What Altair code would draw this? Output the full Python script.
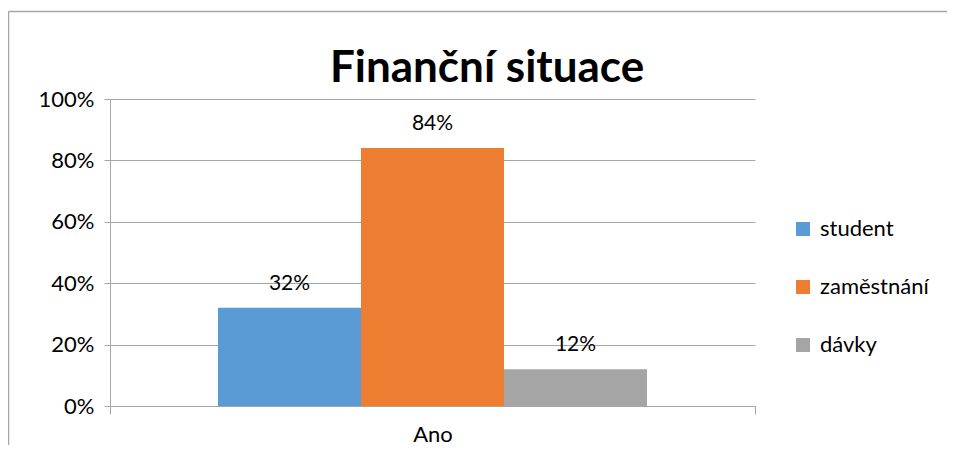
import altair as alt
import pandas as pd

title_text = "Finanční situace"
categories = ["Ano"]
series = ["student", "zaměstnání", "dávky"]
values = [0.32, 0.84, 0.12]
colors = ["#5B9BD5", "#ED7D31", "#A5A5A5"]
y_ticks = [0, 0.2, 0.4, 0.6, 0.8, 1.0]

df = pd.DataFrame({"cat": categories * 3, "series": series, "value": values})

FONT = "Lato"
GRID = "#A6A6A6"

x_enc = alt.X("cat:N", title=None,
              scale=alt.Scale(paddingInner=0, paddingOuter=0),
              axis=alt.Axis(labelAngle=0, labelFontSize=22, labelFont=FONT, labelColor="#000000",
                            domainColor=GRID, tickColor=GRID, tickSize=8, tickBand="extent",
                            labelPadding=10, grid=False))
xo_enc = alt.XOffset("series:N", sort=series,
                     scale=alt.Scale(paddingInner=0, paddingOuter=0.755))
y_enc = alt.Y("value:Q", title=None,
              scale=alt.Scale(domain=[0, 1]),
              axis=alt.Axis(values=y_ticks, format=".0%", labelFontSize=22, labelFont=FONT,
                            labelColor="#000000", domainColor=GRID, tickColor=GRID, tickSize=6,
                            gridColor=GRID, labelPadding=10))

base = alt.Chart(df)

bars = base.mark_bar().encode(
    x=x_enc, xOffset=xo_enc, y=y_enc,
    color=alt.Color("series:N", sort=series,
                    scale=alt.Scale(domain=series, range=colors),
                    legend=alt.Legend(title=None, orient="none", legendX=682, legendY=119,
                                      symbolType="square", symbolSize=196, symbolStrokeWidth=0,
                                      labelFontSize=22, labelFont=FONT, labelColor="#000000",
                                      rowPadding=36, labelOffset=6)),
)

labels = base.mark_text(baseline="bottom", dy=-14, fontSize=21, font=FONT, color="#000000").encode(
    x=x_enc, xOffset=xo_enc, y=y_enc,
    text=alt.Text("value:Q", format=".0%"),
)

frame = alt.Chart(alt.Data(values=[{}]))
border_left = frame.mark_rule(stroke=GRID, strokeWidth=1.5).encode(
    x=alt.value(-101.5), y=alt.value(-87.5), y2=alt.value(400)
)
border_top = frame.mark_rule(stroke=GRID, strokeWidth=1.5).encode(
    x=alt.value(-101.5), x2=alt.value(900), y=alt.value(-87.5)
)

title = alt.Chart(alt.Data(values=[{"t": title_text}])).mark_text(
    fontSize=44, font=FONT, fontWeight="bold", color="#000000", align="center", baseline="alphabetic"
).encode(text="t:N", x=alt.value(377), y=alt.value(-17))

chart = alt.layer(border_left, border_top, bars, labels, title).properties(
    width=645, height=307,
    autosize=alt.AutoSizeParams(type="none"),
    padding={"left": 102, "top": 91, "right": 192, "bottom": 39},
).configure_view(stroke=None)

chart.save("out.html", embed_options={"renderer": "svg", "actions": False})
